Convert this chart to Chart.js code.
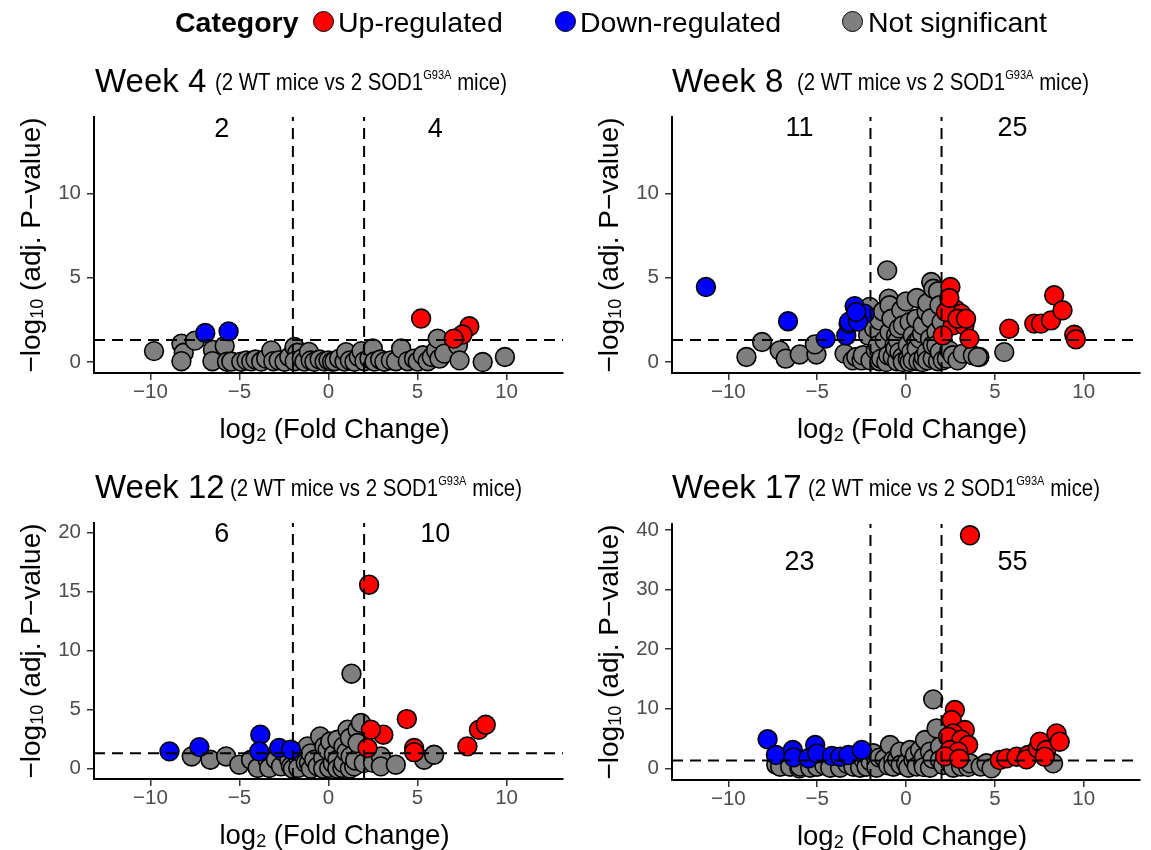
<!DOCTYPE html>
<html><head><meta charset="utf-8">
<script src="https://cdn.jsdelivr.net/npm/chart.js@4.4.0/dist/chart.umd.min.js"></script>
<style>
html,body{margin:0;padding:0;background:#fff;}
#wrap{position:relative;width:1151px;height:850px;overflow:hidden;font-family:"Liberation Sans",Arial,Helvetica,sans-serif;}
canvas{position:absolute;left:0;top:0;}
.t{position:absolute;white-space:nowrap;line-height:1;color:#000;}
.leg{font-size:28.5px;}
.dot{position:absolute;width:19px;height:19px;border-radius:50%;border:1.6px solid #000;}
.wk{font-size:33px;}
.sub{font-size:24px;transform:scaleX(0.85);transform-origin:0 0;}
.sub sup{font-size:13px;position:relative;top:-2px;vertical-align:top;}
.xt{font-size:27.5px;transform:translateX(-50%);}
.xt sub,.yt sub{font-size:18px;position:relative;top:3px;vertical-align:baseline;}
.yt{font-size:28px;transform:translate(-50%,-50%) rotate(-90deg);}
</style></head>
<body><div id="wrap">
<canvas id="c0" width="1151" height="850"></canvas>
<canvas id="c1" width="1151" height="850"></canvas>
<canvas id="c2" width="1151" height="850"></canvas>
<canvas id="c3" width="1151" height="850"></canvas>
</div>
<script>
// ---------- data ----------
const categories = ['Up-regulated', 'Down-regulated', 'Not significant'];
const categoryColors = ['#FF0000', '#0000FF', '#7F7F7F'];
const panelTitles = ['Week 4', 'Week 8', 'Week 12', 'Week 17'];
const subtitleMain = '(2 WT mice vs 2 SOD1';
const subtitleSup = 'G93A';
const subtitleEnd = ' mice)';
const xTickValues = [-10, -5, 0, 5, 10];
const yTicksW4 = [0, 5, 10];
const yTicksW8 = [0, 5, 10];
const yTicksW12 = [0, 5, 10, 15, 20];
const yTicksW17 = [0, 10, 20, 30, 40];
const downCounts = [2, 11, 6, 23];
const upCounts = [4, 25, 10, 55];
const countLabelY = [13.8, 13.85, 19.8, 34.5];
const fcCutoff = 2;
const padjLine = 1.301;

const w4Up = [[5.2,2.58],[7.91,2.12],[7.53,1.63],[7.03,1.39]];
const w4Down = [[-6.92,1.72],[-5.61,1.82]];
const w4NS = [[-9.8,0.65],[-8.26,1.09],[-8.13,0.55],[-8.26,0.05],[-7.5,1.27],[-6.49,0.72],[-6.52,0.05],[-5.83,0.95],[-5.7,0.02],[-5.46,0.03],[-4.9,0.02],[-4.6,0.1],[-4.34,0.04],[-4.1,0.15],[-3.78,0.03],[-3.5,0.2],[-3.21,0.69],[-3.1,0.05],[-2.8,0.1],[-2.47,0.02],[-2.2,0.3],[-1.91,0.89],[-1.75,0.55],[-1.9,0.05],[-1.5,0.2],[-1.35,0.03],[-1.1,0.6],[-1.0,0.1],[-0.79,0.02],[-0.5,0.15],[-0.22,0.03],[0.0,0.1],[0.2,0.02],[0.34,0.05],[0.6,0.2],[0.9,0.03],[0.99,0.59],[1.2,0.1],[1.46,0.02],[1.7,0.3],[1.85,0.65],[2.02,0.05],[2.3,0.2],[2.49,0.8],[2.58,0.03],[2.9,0.15],[3.14,0.02],[3.5,0.1],[3.79,0.05],[4.08,0.8],[4.45,0.05],[4.8,0.2],[5.01,0.03],[5.3,0.4],[5.57,0.05],[5.8,0.3],[6.04,0.69],[6.13,1.39],[6.23,0.2],[6.5,0.5],[7.27,0.99],[7.36,0.1],[8.66,0.0],[9.91,0.3]];

const w8Up = [[2.5,4.45],[2.44,3.37],[2.8,3.1],[3.1,2.87],[2.63,2.18],[3.29,2.18],[2.07,1.58],[3.57,1.39],[2.25,2.97],[2.9,2.57],[2.44,3.8],[3.38,2.57],[5.81,1.98],[7.22,2.28],[7.6,2.28],[8.16,2.47],[8.34,3.96],[8.81,3.07],[9.47,1.62],[9.56,1.35]];
const w8Down = [[-11.26,4.45],[-6.64,2.42],[-4.52,1.39],[-3.36,1.58],[-3.23,2.28],[-2.89,3.32],[-2.33,2.87],[-3.2,2.4],[-2.7,2.4],[-2.8,2.97]];
const w8NS = [[-8.98,0.3],[-8.1,1.19],[-7.11,0.69],[-6.77,0.2],[-5.98,0.45],[-5.04,0.45],[-5.13,1.05],[-3.46,0.5],[-3.0,0.1],[-2.8,0.3],[-2.5,0.1],[-2.43,0.4],[-2.05,3.27],[-2.13,2.07],[-2.13,1.58],[-2.0,0.1],[-1.8,2.0],[-1.7,0.7],[-1.58,1.0],[-1.5,0.05],[-1.49,2.47],[-1.4,0.2],[-1.3,3.0],[-1.2,1.3],[-1.11,0.0],[-1.06,5.44],[-1.0,0.4],[-0.97,3.76],[-0.93,3.37],[-0.93,1.78],[-0.82,2.57],[-0.75,0.3],[-0.65,1.0],[-0.6,0.8],[-0.56,1.58],[-0.5,0.05],[-0.46,1.29],[-0.4,2.0],[-0.37,0.59],[-0.27,3.07],[-0.2,0.3],[-0.18,2.18],[-0.18,0.0],[0.0,3.6],[0.1,1.0],[0.1,0.15],[0.2,2.37],[0.2,0.0],[0.3,0.6],[0.38,1.58],[0.38,0.1],[0.58,2.57],[0.58,1.19],[0.61,3.8],[0.6,0.8],[0.7,0.05],[0.76,1.39],[0.9,1.7],[0.94,2.18],[0.94,0.0],[1.0,0.3],[1.16,2.97],[1.16,0.59],[1.2,0.1],[1.2,3.5],[1.35,1.39],[1.4,2.6],[1.42,4.75],[1.5,0.2],[1.5,1.0],[1.54,4.35],[1.71,1.78],[1.71,1.0],[1.8,0.05],[1.8,4.2],[1.88,3.37],[1.9,0.6],[2.0,2.37],[2.07,0.1],[2.3,0.2],[2.44,0.69],[2.63,0.4],[2.9,0.1],[3.19,0.5],[3.76,0.4],[4.13,0.3],[4.04,0.3],[5.53,0.59]];

const w12Up = [[2.28,15.57],[4.4,4.2],[3.08,2.88],[2.38,3.3],[2.19,1.75],[4.81,1.75],[4.81,1.4],[7.8,1.89],[8.45,3.3],[8.83,3.72]];
const w12Down = [[-8.93,1.47],[-7.25,1.83],[-3.83,2.88],[-3.89,1.47],[-2.77,1.75],[-2.11,1.61]];
const w12NS = [[-7.68,1.04],[-6.63,0.76],[-5.75,1.04],[-5.01,0.34],[-4.35,0.76],[-3.98,0.06],[-3.42,0.76],[-3.33,0.06],[-2.95,0.76],[-2.67,0.2],[-2.5,1.4],[-2.2,0.76],[-2.11,0.2],[-2.0,0.0],[-1.74,1.04],[-1.7,0.06],[-1.5,1.3],[-1.28,0.48],[-1.18,1.89],[-1.1,0.48],[-1.0,1.3],[-0.99,0.0],[-0.8,0.76],[-0.61,0.2],[-0.47,2.73],[-0.3,0.9],[-0.3,0.0],[-0.23,1.89],[-0.05,1.6],[0.04,0.06],[0.1,2.3],[0.24,0.48],[0.3,1.2],[0.5,2.45],[0.5,0.76],[0.5,0.0],[0.78,0.06],[0.84,0.48],[0.84,1.89],[1.0,1.4],[1.07,3.3],[1.2,2.6],[1.2,0.0],[1.24,1.04],[1.29,8.04],[1.44,0.2],[1.5,0.7],[1.63,3.3],[1.63,2.17],[1.82,3.87],[1.98,0.48],[2.5,0.5],[2.94,1.04],[2.94,0.2],[3.78,0.34],[5.37,0.76],[5.93,1.18]];

const w17Up = [[3.6,39.1],[2.75,9.78],[2.57,8.1],[3.31,6.43],[2.66,5.87],[2.37,5.3],[3.12,4.8],[3.5,3.91],[2.47,3.07],[2.94,2.8],[2.2,2.0],[3.0,1.6],[5.28,1.39],[5.66,1.67],[6.22,1.95],[6.87,2.23],[6.78,1.5],[7.42,3.35],[7.53,4.47],[7.9,3.07],[7.81,1.95],[8.47,5.87],[8.65,4.47]];
const w17Down = [[-7.79,4.87],[-7.32,2.23],[-6.37,3.07],[-6.33,1.84],[-5.49,1.68],[-5.11,3.91],[-5.0,2.5],[-4.17,2.06],[-3.7,1.95],[-3.24,2.23],[-2.49,3.07]];
const w17NS = [[-7.3,0.6],[-7.08,0.27],[-6.52,0.27],[-6.0,0.0],[-5.96,0.3],[-5.39,0.1],[-5.0,0.27],[-4.6,0.5],[-4.27,0.1],[-3.71,0.1],[-3.3,0.7],[-2.96,0.27],[-2.58,0.1],[-2.4,1.5],[-2.22,0.27],[-2.0,1.2],[-1.84,2.52],[-1.66,0.84],[-1.66,0.1],[-1.5,1.8],[-1.2,1.6],[-1.0,0.5],[-0.9,3.91],[-0.71,1.39],[-0.71,0.27],[-0.5,1.5],[-0.34,2.8],[-0.3,0.6],[0.0,0.8],[0.13,0.1],[0.23,3.07],[0.42,1.39],[0.5,2.2],[0.6,0.3],[0.79,3.07],[0.97,0.84],[1.0,1.9],[1.0,0.2],[1.07,4.75],[1.35,2.8],[1.35,0.1],[1.5,1.6],[1.53,11.57],[1.72,6.71],[1.91,3.63],[1.91,1.39],[2.1,0.56],[2.5,0.8],[2.66,0.1],[3.1,0.3],[3.5,0.2],[3.6,0.84],[4.2,0.3],[4.53,0.84],[4.81,0.0],[8.28,0.84]];

// ---------- layout ----------
const W = 1151, H = 850;
const panels = [
  {up: w4Up,  down: w4Down,  ns: w4NS,  yTicks: yTicksW4,  ymin: -0.65, ymax: 14.54, L: 94,  T: 117, R: 563,  B: 373},
  {up: w8Up,  down: w8Down,  ns: w8NS,  yTicks: yTicksW8,  ymin: -0.65, ymax: 14.54, L: 672, T: 117, R: 1140, B: 373},
  {up: w12Up, down: w12Down, ns: w12NS, yTicks: yTicksW12, ymin: -0.87, ymax: 20.79, L: 94,  T: 523, R: 563,  B: 779},
  {up: w17Up, down: w17Down, ns: w17NS, yTicks: yTicksW17, ymin: -1.96, ymax: 41.0,  L: 672, T: 524, R: 1140, B: 780}
];
const YAXW = 94, XAXH = 60;
const FONT = '"Liberation Sans", Arial, Helvetica, sans-serif';
const fmt = v => (v < 0 ? '\u2212' + Math.abs(v) : String(v));
const toPts = arr => arr.map(p => ({x: p[0], y: p[1]}));

const refPlugin = {
  id: 'refs',
  afterDatasetsDraw(chart, args, o) {
    const {ctx, chartArea: a, scales: {x, y}} = chart;
    ctx.save();
    ctx.strokeStyle = '#000'; ctx.lineWidth = 2; ctx.setLineDash([11, 7]);
    [-fcCutoff, fcCutoff].forEach(v => {
      const px = x.getPixelForValue(v);
      ctx.beginPath(); ctx.moveTo(px, a.bottom); ctx.lineTo(px, a.top); ctx.stroke();
    });
    const py = y.getPixelForValue(padjLine);
    ctx.beginPath(); ctx.moveTo(a.left, py); ctx.lineTo(a.right, py); ctx.stroke();
    ctx.setLineDash([]);
    ctx.fillStyle = '#000'; ctx.font = '27px ' + FONT;
    ctx.textAlign = 'center'; ctx.textBaseline = 'middle';
    ctx.fillText(String(o.down), x.getPixelForValue(-6), y.getPixelForValue(o.annY));
    ctx.fillText(String(o.up), x.getPixelForValue(6), y.getPixelForValue(o.annY));
    ctx.restore();
  }
};

function axisCommon() {
  return {
    grid: {display: true, drawOnChartArea: false, drawTicks: true, tickLength: 7, color: '#333', lineWidth: 1.5},
    border: {display: true, color: '#000', width: 2},
    ticks: {color: '#4D4D4D', font: {size: 20.5, family: FONT}, autoSkip: false, maxRotation: 0, callback: v => fmt(v)}
  };
}

panels.forEach((p, i) => {
  const xs = axisCommon(), ys = axisCommon();
  xs.ticks.padding = 0; ys.ticks.padding = 6;
  new Chart(document.getElementById('c' + i), {
    type: 'scatter',
    data: {
      datasets: [
        {label: categories[0], data: toPts(p.up), backgroundColor: categoryColors[0]},
        {label: categories[1], data: toPts(p.down), backgroundColor: categoryColors[1]},
        {label: categories[2], data: toPts(p.ns), backgroundColor: categoryColors[2]}
      ].map(d => Object.assign(d, {borderColor: '#000', borderWidth: 1.6, pointRadius: 9.4, pointHoverRadius: 9.4, clip: false}))
    },
    options: {
      responsive: false, animation: false, devicePixelRatio: 1, events: [],
      layout: {padding: {left: p.L - YAXW, top: p.T, right: W - p.R, bottom: H - p.B - XAXH}},
      plugins: {legend: {display: false}, tooltip: {enabled: false}, refs: {up: upCounts[i], down: downCounts[i], annY: countLabelY[i]}},
      scales: {
        x: Object.assign(xs, {type: 'linear', min: -13.17, max: 13.17,
          afterBuildTicks: s => { s.ticks = xTickValues.map(v => ({value: v})); },
          afterFit: s => { s.height = XAXH; }}),
        y: Object.assign(ys, {type: 'linear', min: p.ymin, max: p.ymax,
          afterBuildTicks: s => { s.ticks = p.yTicks.map(v => ({value: v})); },
          afterFit: s => { s.width = YAXW; }})
      }
    },
    plugins: [refPlugin]
  });
});

// ---------- text (legend, titles, axis titles) ----------
const wrap = document.getElementById('wrap');
function addText(cls, html, left, top) {
  const d = document.createElement('div');
  d.className = 't ' + cls; d.innerHTML = html;
  d.style.left = left + 'px'; d.style.top = top + 'px';
  wrap.appendChild(d); return d;
}
function addDot(color, cx, cy) {
  const d = document.createElement('div');
  d.className = 'dot'; d.style.background = color;
  d.style.left = (cx - 11) + 'px'; d.style.top = (cy - 11) + 'px';
  wrap.appendChild(d);
}
addText('leg', '<b>Category</b>', 175, 8);
const legX = [[324, 338], [566, 580], [853, 868]];
categories.forEach((c, k) => { addDot(categoryColors[k], legX[k][0], 22); addText('leg', c, legX[k][1], 8); });

const titlePos = [[95, 64, 215, 70], [672, 64, 797, 70], [95, 470, 230, 476], [672, 470, 808, 476]];
panelTitles.forEach((t, i) => {
  const q = titlePos[i];
  addText('wk', t, q[0], q[1]);
  addText('sub', subtitleMain + '<sup>' + subtitleSup + '</sup>' + subtitleEnd, q[2], q[3]);
});
const xTitle = 'log<sub>2</sub> (Fold Change)';
const yTitle = '\u2212log<sub>10</sub> (adj. P\u2212value)';
panels.forEach((p, i) => {
  addText('xt', xTitle, (p.L + p.R) / 2 + 6, p.B + 42);
  addText('yt', yTitle, p.L - 63, (p.T + p.B) / 2);
});
</script>
</body></html>
